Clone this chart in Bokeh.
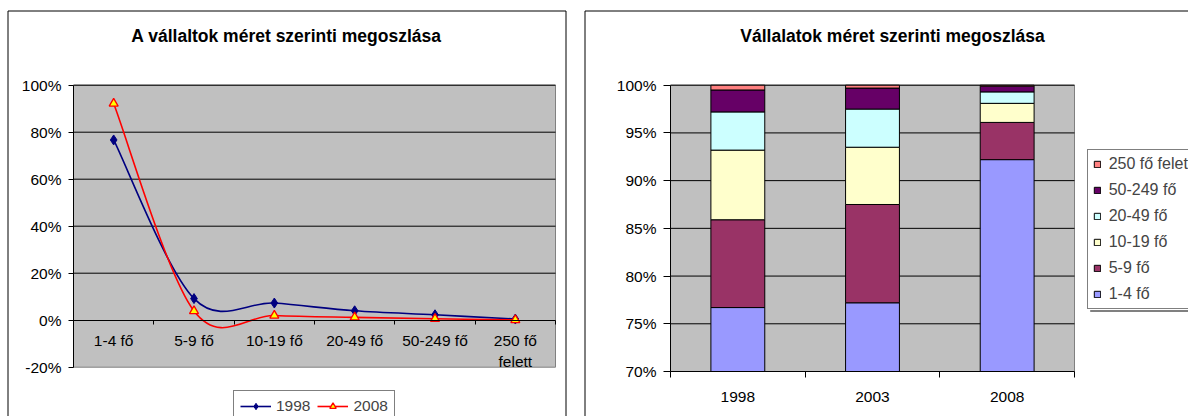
from bokeh.plotting import figure
from bokeh.layouts import row
from bokeh.models import (Range1d, FixedTicker, PrintfTickFormatter, Legend,
                          LegendItem, Label, LinearAxis, ColumnDataSource)
from bokeh.embed import file_html
from bokeh.resources import INLINE

# ---------------- data ----------------
size_classes = ["1-4 fő", "5-9 fő", "10-19 fő", "20-49 fő", "50-249 fő", "250 fő felett"]
size_tick_labels = ["1-4 fő", "5-9 fő", "10-19 fő", "20-49 fő", "50-249 fő", "250 fő\nfelett"]
years = ["1998", "2003", "2008"]

# share of firms (%) per size class, for 1998, 2003, 2008
share_1_4 = [76.7, 77.2, 92.2]
share_5_9 = [9.2, 10.3, 3.9]
share_10_19 = [7.3, 6.0, 2.0]
share_20_49 = [4.0, 4.0, 1.2]
share_50_249 = [2.3, 2.2, 0.6]
share_250 = [0.5, 0.3, 0.1]

stack_colors = ["#9999FF", "#993366", "#FFFFCC", "#CCFFFF", "#660066", "#FF8080"]
line_years = ["1998", "2008"]
left_y_ticks = [-20, 0, 20, 40, 60, 80, 100]
right_y_ticks = [70, 75, 80, 85, 90, 95, 100]

left_title = "A vállaltok méret szerinti megoszlása"
right_title = "Vállalatok méret szerinti megoszlása"

FONT = "Liberation Sans"
GRAY = "#C0C0C0"
NAN = float("nan")

all_shares = [share_1_4, share_5_9, share_10_19, share_20_49, share_50_249, share_250]
series_1998 = [s[years.index("1998")] for s in all_shares]
series_2008 = [s[years.index("2008")] for s in all_shares]
xs_cat = [i + 0.5 for i in range(len(size_classes))]
xs_year = [i + 0.5 for i in range(len(years))]

# ---------------- page geometry (pixels, picture coordinates) ----------------
H = 416
TOP = 0
L_LEFT, L_W = 0, 576
R_LEFT, R_W = 576, 612


class Mapper:
    """maps picture pixels of a chart to its data coordinates"""
    def __init__(self, cx, w, px0, px1, x0, x1, py_top, py_bot, y_top, y_bot):
        self.kx = (x1 - x0) / (px1 - px0)
        self.ky = (y_top - y_bot) / (py_bot - py_top)
        self.px0, self.x0, self.py_top, self.y_top = px0, x0, py_top, y_top
        self.x_range = Range1d(self.x(cx), self.x(cx + w))
        self.y_range = Range1d(self.y(TOP + H), self.y(TOP))

    def x(self, px):
        return self.x0 + (px - self.px0) * self.kx

    def y(self, py):
        return self.y_top - (py - self.py_top) * self.ky


def smooth(xs, ys):
    n = len(xs)
    d = dict(x0=[], y0=[], x1=[], y1=[], cx0=[], cy0=[], cx1=[], cy1=[])
    for i in range(n - 1):
        ip = max(i - 1, 0)
        inx = min(i + 2, n - 1)
        d["x0"].append(xs[i]); d["y0"].append(ys[i])
        d["x1"].append(xs[i + 1]); d["y1"].append(ys[i + 1])
        d["cx0"].append(xs[i] + (xs[i + 1] - xs[ip]) / 6.0)
        d["cy0"].append(ys[i] + (ys[i + 1] - ys[ip]) / 6.0)
        d["cx1"].append(xs[i + 1] - (xs[inx] - xs[i]) / 6.0)
        d["cy1"].append(ys[i + 1] - (ys[inx] - ys[i]) / 6.0)
    return ColumnDataSource(d)


def style_axis(ax):
    ax.major_label_text_font = FONT
    ax.major_label_text_font_size = "15.5px"
    ax.major_label_text_color = "black"
    ax.axis_line_color = "black"
    ax.major_tick_line_color = "black"
    ax.minor_tick_line_color = "black"


def base_fig(w, m):
    p = figure(width=w, height=H, x_range=m.x_range, y_range=m.y_range,
               output_backend="svg", toolbar_location=None,
               x_axis_type=None, y_axis_type=None,
               min_border=0, min_border_left=0, min_border_right=0,
               min_border_top=0, min_border_bottom=0,
               background_fill_color="white", border_fill_color="white",
               outline_line_color=None)
    p.grid.visible = False
    return p


def border(p, m, left, top, right=None):
    xs0 = [m.x(left + 0.5), m.x(left + 0.5)]
    ys0 = [m.y(top + 0.5), m.y(top + 0.5)]
    xs1 = [m.x(left + 0.5), m.x(right + 0.5 if right else 1300)]
    ys1 = [m.y(TOP + H + 10), m.y(top + 0.5)]
    if right:
        xs0.append(m.x(right + 0.5)); ys0.append(m.y(top + 0.5))
        xs1.append(m.x(right + 0.5)); ys1.append(m.y(TOP + H + 10))
    p.segment(x0=xs0, y0=ys0, x1=xs1, y1=ys1, line_color="black", line_width=1)


# ---------------- left chart ----------------
n_cat = len(size_classes)
mL = Mapper(L_LEFT, L_W, 73, 555, 0, n_cat, 84.7, 366.7, left_y_ticks[-1], left_y_ticks[0])
p1 = base_fig(L_W, mL)
border(p1, mL, 7, 10, 565)

p1.quad(left=0, right=n_cat, bottom=left_y_ticks[0], top=left_y_ticks[-1],
        fill_color=GRAY, line_color="#808080", line_width=1, level="underlay")
grid_l = [t for t in left_y_ticks if t > 0]
p1.segment(x0=[0] * len(grid_l), x1=[n_cat] * len(grid_l), y0=grid_l, y1=grid_l,
           line_color="black", line_width=1)

ya = LinearAxis(fixed_location=0, bounds=(left_y_ticks[0], left_y_ticks[-1]),
                ticker=FixedTicker(ticks=left_y_ticks),
                formatter=PrintfTickFormatter(format="%d%%"))
style_axis(ya)
ya.major_tick_out = 5
ya.major_tick_in = 0
ya.major_label_standoff = 7
p1.add_layout(ya, "left")

xa = LinearAxis(fixed_location=0, bounds=(0, n_cat),
                ticker=FixedTicker(ticks=xs_cat, minor_ticks=list(range(n_cat + 1))))
xa.major_label_overrides = {x: lab for x, lab in zip(xs_cat, size_tick_labels)}
style_axis(xa)
xa.major_tick_out = 0
xa.major_tick_in = 0
xa.minor_tick_out = 4
xa.minor_tick_in = 0
xa.major_label_standoff = 8
p1.add_layout(xa, "below")

p1.bezier(x0="x0", y0="y0", x1="x1", y1="y1", cx0="cx0", cy0="cy0", cx1="cx1", cy1="cy1",
          source=smooth(xs_cat, series_1998), line_color="#000080", line_width=1.6)
m98 = p1.scatter(xs_cat, series_1998, marker="diamond", size=10, fill_color="#000080",
                 line_color="#000080")
p1.bezier(x0="x0", y0="y0", x1="x1", y1="y1", cx0="cx0", cy0="cy0", cx1="cx1", cy1="cy1",
          source=smooth(xs_cat, series_2008), line_color="#FF0000", line_width=1.6)
m08 = p1.scatter(xs_cat, series_2008, marker="triangle", size=9, fill_color="#FFFF00",
                 line_color="#FF0000", line_width=1.3)
# legend proxies (NaN lines draw nothing in the plot)
k98 = p1.line(x=[NAN, NAN], y=[NAN, NAN], line_color="#000080", line_width=1.6)
k08 = p1.line(x=[NAN, NAN], y=[NAN, NAN], line_color="#FF0000", line_width=1.6)

LEG1_TOP, LEG1_H = 391.7, 30
leg1 = Legend(items=[LegendItem(label=line_years[0], renderers=[k98, m98]),
                     LegendItem(label=line_years[1], renderers=[k08, m08])],
              orientation="horizontal",
              location=(233 - L_LEFT, TOP + H - (LEG1_TOP + LEG1_H)),
              glyph_width=31, glyph_height=16, label_height=18, label_standoff=5,
              spacing=7, padding=6, margin=0,
              label_text_font=FONT, label_text_font_size="15.5px",
              border_line_color="black", border_line_width=1,
              background_fill_color="white", background_fill_alpha=1)
p1.add_layout(leg1)

p1.add_layout(Label(x=mL.x(286), y=mL.y(35.7), text=left_title, text_align="center",
                    text_baseline="middle", text_font=FONT, text_font_size="17.5px",
                    text_font_style="bold", text_color="black"))

# ---------------- right chart ----------------
n_year = len(years)
mR = Mapper(R_LEFT, R_W, 670, 1074, 0, n_year, 84.7, 371.0, right_y_ticks[-1], right_y_ticks[0])
p2 = base_fig(R_W, mR)
border(p2, mR, 584, 10)

p2.quad(left=0, right=n_year, bottom=right_y_ticks[0], top=right_y_ticks[-1],
        fill_color=GRAY, line_color="#808080", line_width=1, level="underlay")
grid_r = [t for t in right_y_ticks if t > right_y_ticks[0]]
p2.segment(x0=[0] * len(grid_r), x1=[n_year] * len(grid_r), y0=grid_r, y1=grid_r,
           line_color="black", line_width=1)

y_min = right_y_ticks[0]
bars = []
cum = [0.0] * n_year
for vals, col in zip(all_shares, stack_colors):
    bottoms = [max(c, y_min) for c in cum]
    cum = [c + v for c, v in zip(cum, vals)]
    tops = [max(c, y_min) for c in cum]
    r = p2.vbar(x=xs_year, width=0.4, bottom=bottoms, top=tops, fill_color=col,
                line_color="black", line_width=1)
    bars.append(r)

ya2 = LinearAxis(fixed_location=0, bounds=(right_y_ticks[0], right_y_ticks[-1]),
                 ticker=FixedTicker(ticks=right_y_ticks),
                 formatter=PrintfTickFormatter(format="%d%%"))
style_axis(ya2)
ya2.major_tick_out = 7
ya2.major_tick_in = 0
ya2.major_label_standoff = 7
p2.add_layout(ya2, "left")

xa2 = LinearAxis(fixed_location=right_y_ticks[0], bounds=(0, n_year),
                 ticker=FixedTicker(ticks=xs_year, minor_ticks=list(range(n_year + 1))))
xa2.major_label_overrides = {x: y for x, y in zip(xs_year, years)}
style_axis(xa2)
xa2.major_tick_out = 0
xa2.major_tick_in = 0
xa2.minor_tick_out = 6
xa2.minor_tick_in = 0
xa2.major_label_standoff = 14
p2.add_layout(xa2, "below")

LEG2_LEFT, LEG2_TOP = 1086.7, 151
LEG2_PAD, LEG2_ITEM, LEG2_SP = 5, 18, 8
LEG2_H = 2 * LEG2_PAD + len(size_classes) * LEG2_ITEM + (len(size_classes) - 1) * LEG2_SP
# legend drop shadow (below the box)
p2.quad(left=mR.x(LEG2_LEFT + 3), right=mR.x(1200), top=mR.y(LEG2_TOP + LEG2_H + 0.5),
        bottom=mR.y(LEG2_TOP + LEG2_H + 2.5), fill_color="#808080", line_color=None)
leg2 = Legend(items=[LegendItem(label=lab, renderers=[r])
                     for lab, r in reversed(list(zip(size_classes, bars)))],
              orientation="vertical",
              location=(LEG2_LEFT - R_LEFT, TOP + H - (LEG2_TOP + LEG2_H)),
              glyph_width=8, glyph_height=8, label_height=LEG2_ITEM, label_standoff=8,
              spacing=LEG2_SP, padding=LEG2_PAD, margin=0,
              label_text_font=FONT, label_text_font_size="16px",
              border_line_color="black", border_line_width=1,
              background_fill_color="white", background_fill_alpha=1)
p2.add_layout(leg2)

p2.add_layout(Label(x=mR.x(892), y=mR.y(35.7), text=right_title, text_align="center",
                    text_baseline="middle", text_font=FONT, text_font_size="17.5px",
                    text_font_style="bold", text_color="black"))

layout = row(p1, p2, spacing=0, styles={"margin-bottom": "-8px"})
open("out.html", "w").write(file_html(layout, INLINE))
